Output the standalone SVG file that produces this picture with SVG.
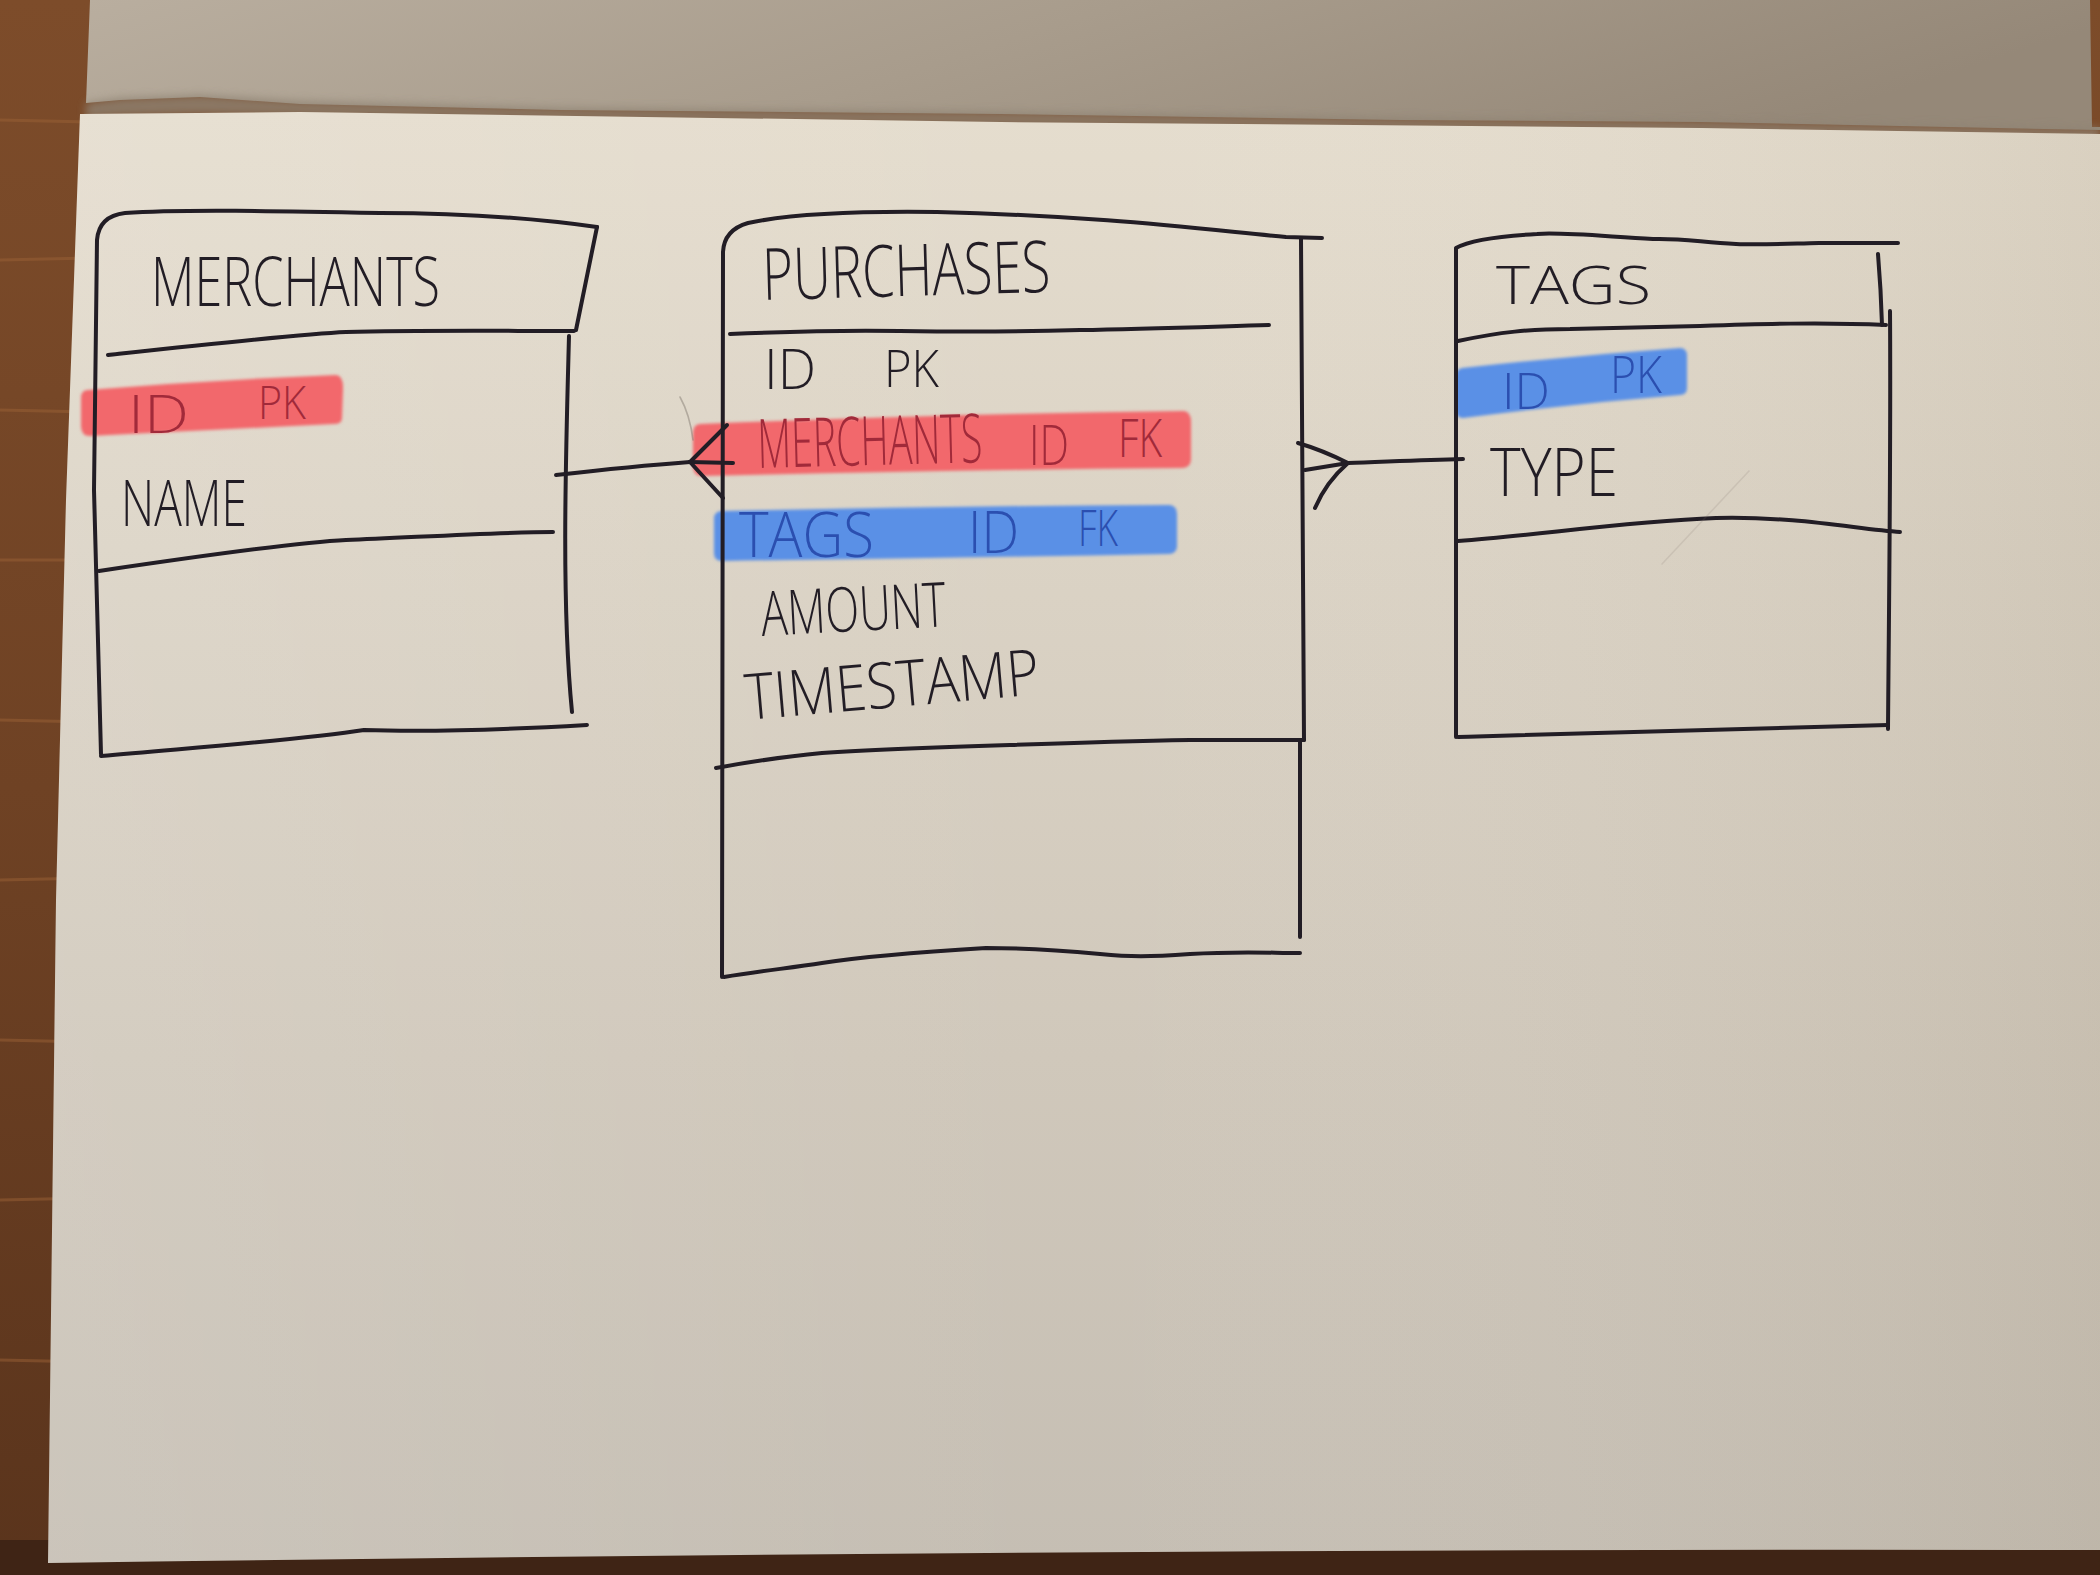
<svg xmlns="http://www.w3.org/2000/svg" width="2100" height="1575" viewBox="0 0 2100 1575">
  <defs>
    <linearGradient id="paper" x1="0" y1="0" x2="0" y2="1">
      <stop offset="0" stop-color="#e5ddce"/>
      <stop offset="0.3" stop-color="#dbd3c5"/>
      <stop offset="0.65" stop-color="#d0c8bb"/>
      <stop offset="1" stop-color="#c5beb3"/>
    </linearGradient>
    <linearGradient id="paperSide" x1="0" y1="0" x2="1" y2="0">
      <stop offset="0" stop-color="#ffffff" stop-opacity="0.10"/>
      <stop offset="0.5" stop-color="#ffffff" stop-opacity="0"/>
      <stop offset="1" stop-color="#8a7a60" stop-opacity="0.12"/>
    </linearGradient>
    <linearGradient id="fold" x1="0" y1="0" x2="1" y2="0.2">
      <stop offset="0" stop-color="#b9ae9f"/>
      <stop offset="0.5" stop-color="#a89c8c"/>
      <stop offset="1" stop-color="#958878"/>
    </linearGradient>
    <linearGradient id="wood" x1="0" y1="0" x2="0" y2="1">
      <stop offset="0" stop-color="#7d4c2a"/>
      <stop offset="0.5" stop-color="#6f4224"/>
      <stop offset="1" stop-color="#5a341c"/>
    </linearGradient>
    <filter id="soft" x="-5%" y="-20%" width="110%" height="140%">
      <feGaussianBlur stdDeviation="1.6"/>
    </filter>
    <filter id="haze" x="-5%" y="-50%" width="110%" height="200%">
      <feGaussianBlur stdDeviation="4"/>
    </filter>
    <style>
      .ink { fill: none; stroke: #221d25; stroke-width: 4; stroke-linecap: round; stroke-linejoin: round; }
      .pencil { fill: none; stroke: #7d736a; stroke-width: 1.6; stroke-linecap: round; opacity: 0.45; }
      .pencil.faint { opacity: 0.16; }
      .hand { font-family: "Open Sans", "Liberation Sans", sans-serif; font-weight: 300; fill: #221d25; }
      .redtxt { fill: #a12a3a; }
      .bluetxt { fill: #2b4fb0; }
      .hlred { fill: #f2676c; }
      .hlblue { fill: #5a90e6; }
    </style>
  </defs>

  <!-- table top and paper sheets -->
  <g id="background">
    <rect x="0" y="0" width="2100" height="1575" fill="url(#wood)"/>
    <g stroke="#9a6136" stroke-width="3" opacity="0.5">
      <line x1="0" y1="120" x2="90" y2="122"/>
      <line x1="0" y1="260" x2="90" y2="258"/>
      <line x1="0" y1="410" x2="90" y2="412"/>
      <line x1="0" y1="560" x2="90" y2="560"/>
      <line x1="0" y1="720" x2="90" y2="722"/>
      <line x1="0" y1="880" x2="90" y2="878"/>
      <line x1="0" y1="1040" x2="90" y2="1042"/>
      <line x1="0" y1="1200" x2="90" y2="1198"/>
      <line x1="0" y1="1360" x2="90" y2="1362"/>
    </g>
    <rect x="0" y="1540" width="2100" height="35" fill="#3f2415"/>
    <!-- folded page above -->
    <path d="M 90 0 L 2090 0 L 2092 127 L 2100 127 L 2100 130 L 1700 122 L 1400 120 L 1000 114 L 560 110 L 300 104 L 200 97 L 120 100 L 86 103 Z" fill="url(#fold)"/>
    <path d="M 86 103 L 120 98 L 200 95 L 300 101 L 560 108 L 1000 112 L 1400 118 L 1700 121 L 2100 128 L 2100 140 L 1700 134 L 1400 130 L 1000 126 L 560 120 L 300 116 L 200 114 L 120 116 L 86 118 Z" fill="#8f8373" filter="url(#haze)" opacity="0.8"/>
    <!-- working sheet -->
    <path d="M 80 114 L 300 112 L 1000 122 L 1700 128 L 2100 134 L 2100 1550 Q 1100 1548 48 1563 L 56 900 L 66 500 Z" fill="url(#paper)"/>
    <path d="M 80 114 L 300 112 L 1000 122 L 1700 128 L 2100 134 L 2100 1550 Q 1100 1548 48 1563 L 56 900 L 66 500 Z" fill="url(#paperSide)"/>
  </g>

  <!-- MERCHANTS table -->
  <g id="merchants">
    <path class="hlred" filter="url(#soft)" d="M 88 390 Q 210 380 336 375 Q 344 376 343 390 L 342 418 Q 342 424 334 424 Q 210 430 90 436 Q 81 436 81 426 L 81 398 Q 81 390 88 390 Z"/>
    <path class="ink" d="M 597 227 C 540 219, 470 213, 380 213 C 280 211, 180 209, 125 213 Q 99 216 97 240 L 94 490 L 101 754"/>
    <path class="ink" d="M 597 227 L 576 330"/>
    <path class="ink" d="M 108 355 C 200 345, 300 334, 346 332 C 420 330, 500 331, 574 331"/>
    <path class="ink" d="M 569 336 C 566 450, 561 600, 572 712"/>
    <path class="ink" d="M 99 571 C 200 556, 300 542, 346 540 C 420 537, 500 532, 553 532"/>
    <path class="ink" d="M 101 756 C 200 747, 300 740, 364 730 C 420 732, 500 730, 587 725"/>
    <text class="hand" x="151" y="306" font-size="68" textLength="289" lengthAdjust="spacingAndGlyphs">MERCHANTS</text>
    <text class="hand redtxt" x="128" y="433" font-size="54" textLength="61" lengthAdjust="spacingAndGlyphs">ID</text>
    <text class="hand redtxt" x="258" y="419" font-size="46" textLength="48" lengthAdjust="spacingAndGlyphs">PK</text>
    <text class="hand" x="121" y="526" font-size="64" textLength="126" lengthAdjust="spacingAndGlyphs">NAME</text>
  </g>

  <!-- PURCHASES table -->
  <g id="purchases">
    <path class="hlred" filter="url(#soft)" d="M 700 424 Q 950 414 1184 411 Q 1191 412 1191 422 L 1191 460 Q 1190 468 1182 468 Q 950 470 702 476 Q 693 476 693 466 L 693 434 Q 693 424 700 424 Z"/>
    <path class="hlblue" filter="url(#soft)" d="M 722 511 Q 950 506 1170 505 Q 1177 506 1177 514 L 1177 547 Q 1176 554 1169 554 Q 950 558 722 561 Q 714 561 714 553 L 714 519 Q 714 511 722 511 Z"/>
    <path class="ink" d="M 1322 238 L 1286 237 C 1200 229, 1100 216, 937 212 C 860 211, 790 214, 748 223 Q 724 230 723 252 L 722 977"/>
    <path class="ink" d="M 724 977 C 760 971, 790 968, 822 963 C 860 957, 904 953, 986 948 C 1030 948, 1067 951, 1100 954 C 1130 957, 1149 957, 1190 954 C 1240 951, 1270 953, 1300 953"/>
    <path class="ink" d="M 1301 238 C 1302 400, 1303 600, 1304 740"/>
    <path class="ink" d="M 1300 742 L 1300 937"/>
    <path class="ink" d="M 730 334 C 800 331, 848 330, 900 331 C 960 332, 1017 332, 1080 330 C 1143 329, 1200 327, 1269 325"/>
    <path class="ink" d="M 716 768 C 760 760, 790 756, 822 753 C 880 749, 945 747, 1010 745 C 1067 743, 1130 741, 1190 740 L 1304 740"/>
    <text class="hand" x="763" y="300" font-size="72" textLength="288" lengthAdjust="spacingAndGlyphs" transform="rotate(-1.6 763 300)">PURCHASES</text>
    <text class="hand" x="764" y="389" font-size="55" textLength="52" lengthAdjust="spacingAndGlyphs">ID</text>
    <text class="hand" x="884" y="387" font-size="52" textLength="55" lengthAdjust="spacingAndGlyphs">PK</text>
    <text class="hand redtxt" x="758" y="468" font-size="68" textLength="225" lengthAdjust="spacingAndGlyphs" transform="rotate(-1.5 758 468)">MERCHANTS</text>
    <text class="hand redtxt" x="1029" y="465" font-size="56" textLength="40" lengthAdjust="spacingAndGlyphs">ID</text>
    <text class="hand redtxt" x="1118" y="457" font-size="54" textLength="44" lengthAdjust="spacingAndGlyphs">FK</text>
    <text class="hand bluetxt" x="739" y="557" font-size="62" textLength="135" lengthAdjust="spacingAndGlyphs">TAGS</text>
    <text class="hand bluetxt" x="968" y="553" font-size="58" textLength="51" lengthAdjust="spacingAndGlyphs">ID</text>
    <text class="hand bluetxt" x="1078" y="546" font-size="50" textLength="40" lengthAdjust="spacingAndGlyphs">FK</text>
    <text class="hand" x="762" y="636" font-size="62" textLength="185" lengthAdjust="spacingAndGlyphs" transform="rotate(-3 762 636)">AMOUNT</text>
    <text class="hand" x="747" y="720" font-size="64" textLength="295" lengthAdjust="spacingAndGlyphs" transform="rotate(-5 747 720)">TIMESTAMP</text>
  </g>

  <!-- TAGS table -->
  <g id="tags">
    <path class="hlblue" filter="url(#soft)" d="M 1462 368 Q 1570 356 1680 348 Q 1687 348 1687 356 L 1687 388 Q 1687 395 1680 395 Q 1570 404 1463 418 Q 1456 418 1456 410 L 1456 376 Q 1456 369 1462 368 Z"/>
    <path class="ink" d="M 1898 243 C 1860 243, 1840 243, 1819 243 C 1780 244, 1760 245, 1736 244 C 1700 242, 1680 238, 1653 239 C 1600 236, 1560 232, 1537 234 C 1500 236, 1470 240, 1456 248 L 1456 737"/>
    <path class="ink" d="M 1878 254 Q 1881 290 1882 325"/>
    <path class="ink" d="M 1458 341 C 1500 332, 1530 329, 1570 329 C 1620 328, 1660 327, 1700 326 C 1760 324, 1820 322, 1886 325"/>
    <path class="ink" d="M 1890 311 C 1891 450, 1889 600, 1888 729"/>
    <path class="ink" d="M 1458 541 C 1540 535, 1620 522, 1716 518 C 1800 516, 1860 530, 1900 532"/>
    <path class="ink" d="M 1458 737 C 1580 733, 1700 729, 1888 725"/>
    <path class="pencil faint" d="M 1749 471 L 1662 564"/>
    <text class="hand" x="1496" y="304" font-size="54" textLength="155" lengthAdjust="spacingAndGlyphs">TAGS</text>
    <text class="hand bluetxt" x="1502" y="409" font-size="50" textLength="48" lengthAdjust="spacingAndGlyphs">ID</text>
    <text class="hand bluetxt" x="1610" y="393" font-size="52" textLength="52" lengthAdjust="spacingAndGlyphs">PK</text>
    <text class="hand" x="1490" y="496" font-size="66" textLength="128" lengthAdjust="spacingAndGlyphs">TYPE</text>
  </g>

  <!-- relationships: crow's-foot ends on PURCHASES -->
  <g id="connectors">
    <path class="ink" d="M 556 475 C 600 470, 650 465, 690 462"/>
    <path class="ink" d="M 690 462 L 727 425"/>
    <path class="ink" d="M 690 462 L 723 498"/>
    <path class="ink" d="M 690 462 L 733 463" stroke="#9c2a36"/>
    <path class="pencil" d="M 680 397 Q 690 415 693 440"/>
    <path class="ink" d="M 1463 459 C 1420 460, 1380 462, 1348 463"/>
    <path class="ink" d="M 1348 463 Q 1322 450 1298 443"/>
    <path class="ink" d="M 1348 463 L 1305 470"/>
    <path class="ink" d="M 1348 463 Q 1326 482 1315 508"/>
  </g>
</svg>
